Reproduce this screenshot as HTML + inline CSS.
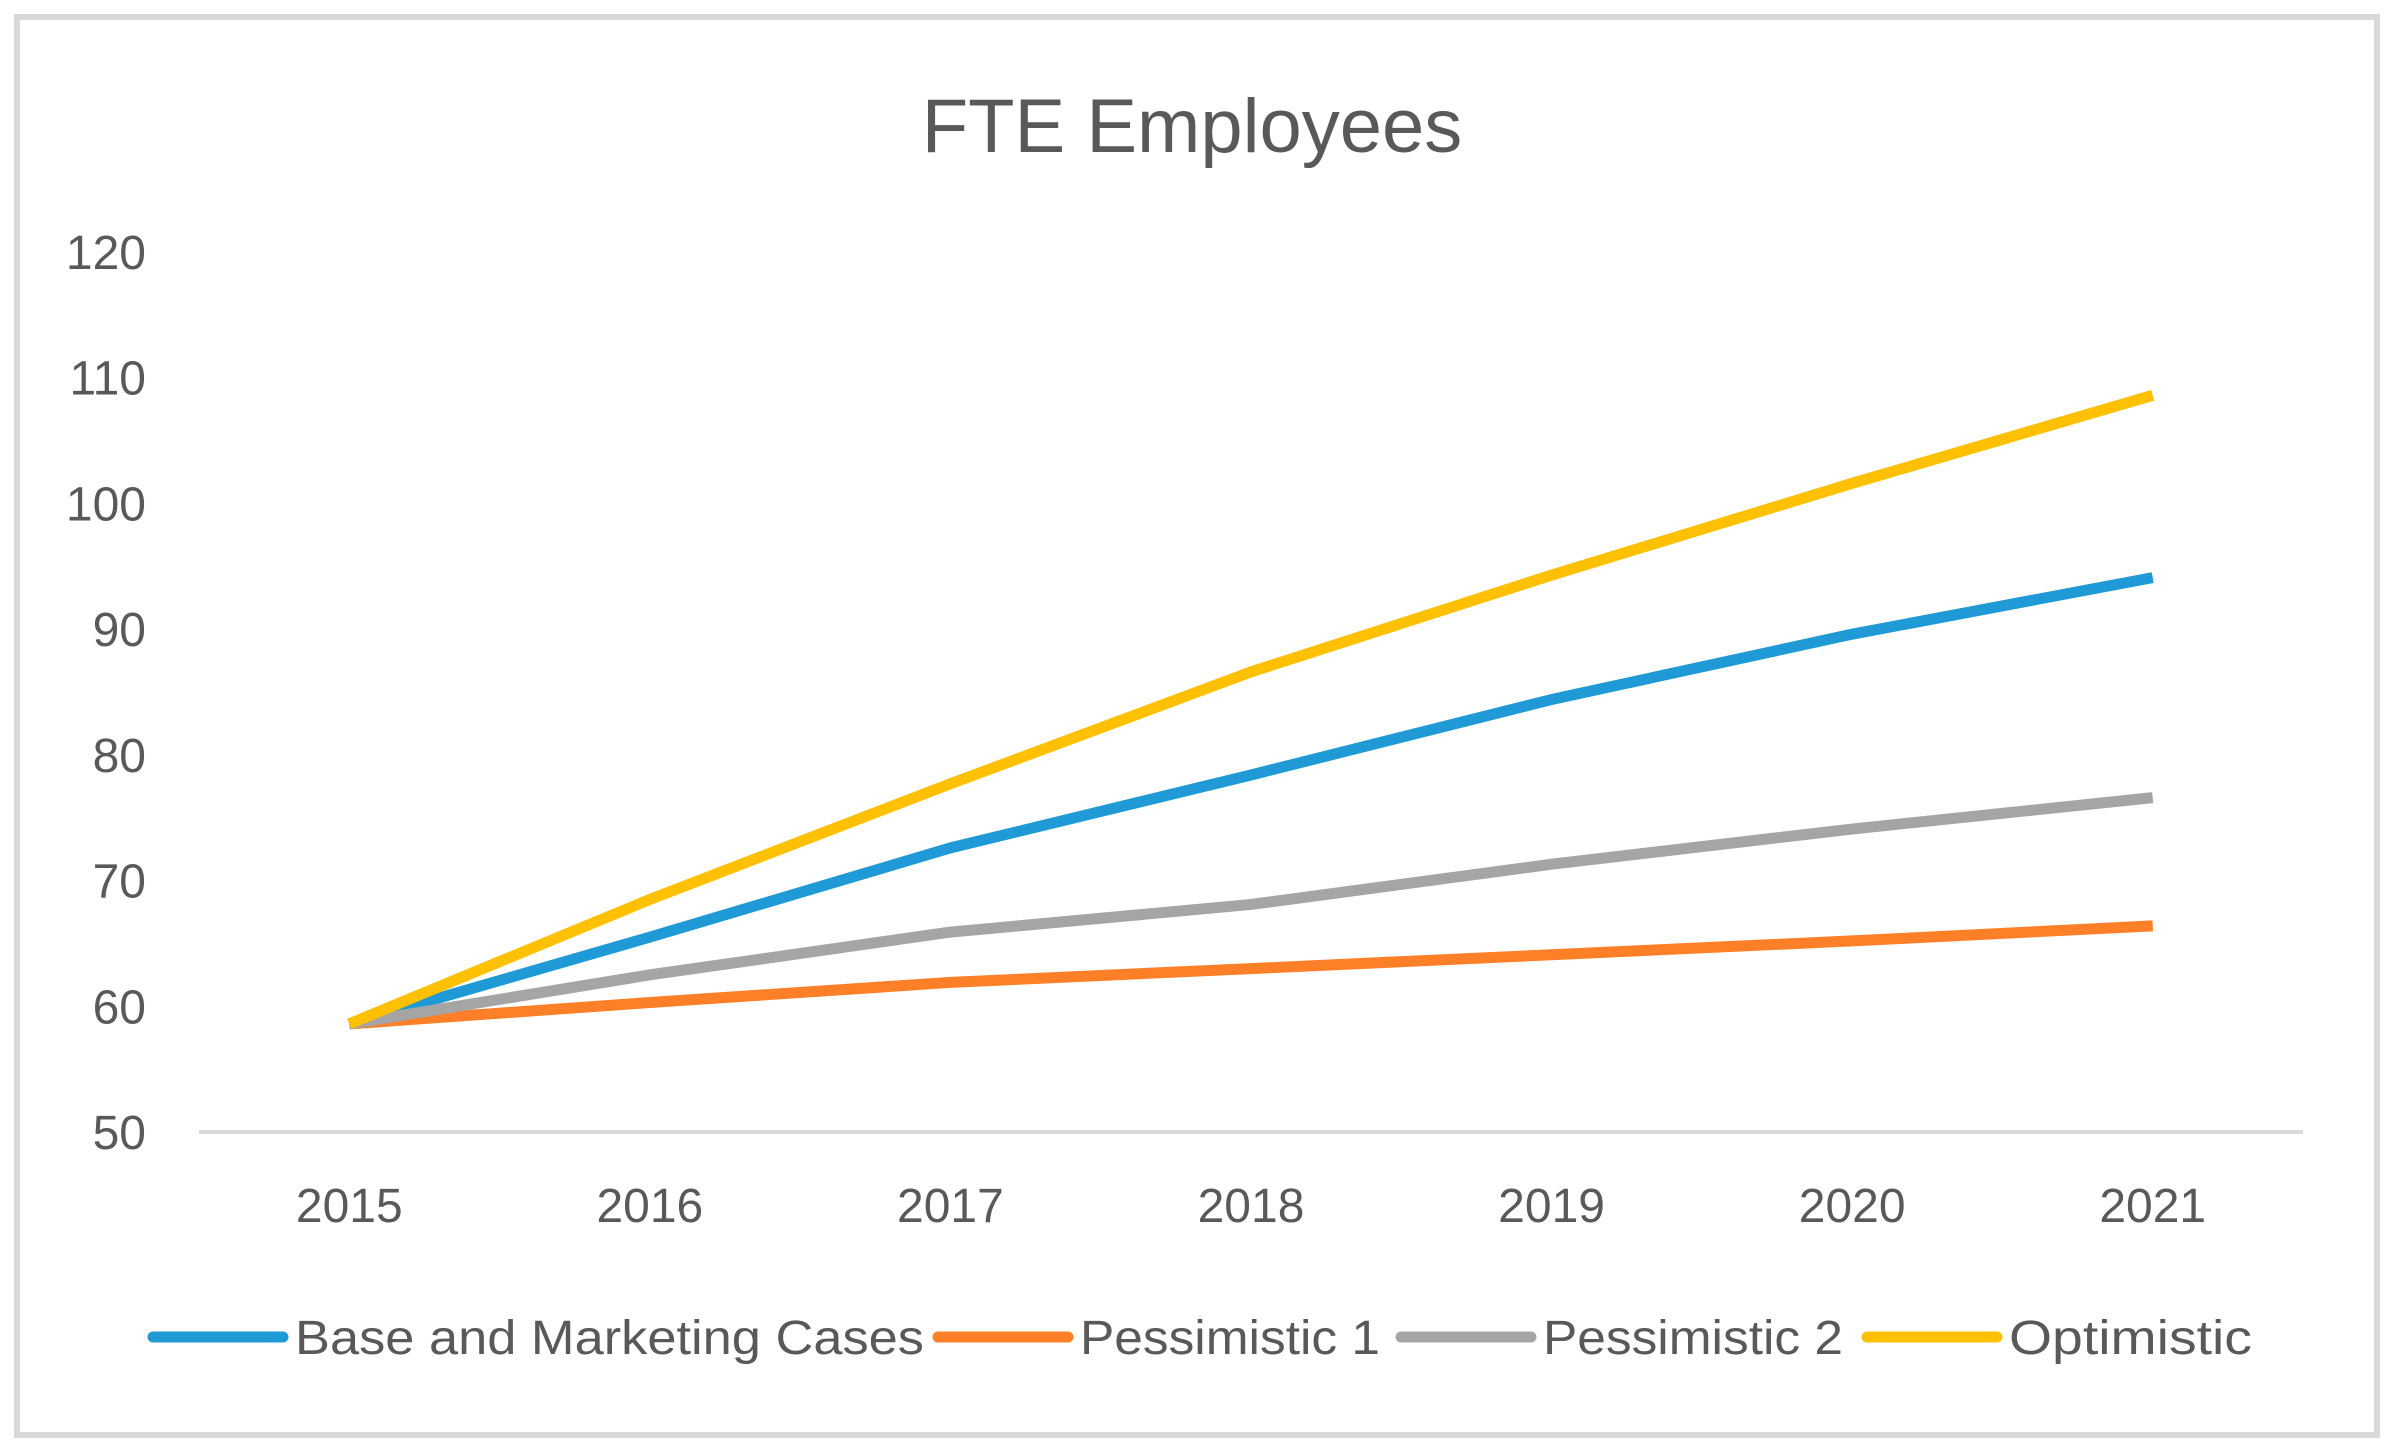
<!DOCTYPE html>
<html><head><meta charset="utf-8"><style>
html,body{margin:0;padding:0;background:#fff;}
svg{display:block;font-family:"Liberation Sans",sans-serif;}
</style></head><body>
<svg id="chart" width="2396" height="1452" viewBox="0 0 2396 1452">
<rect x="17" y="17" width="2360" height="1418" fill="#fff" stroke="#d9d9d9" stroke-width="6"/>
<text x="1192" y="152" font-size="76" fill="#595959" text-anchor="middle">FTE Employees</text>
<g id="yticks"></g><g id="xticks"></g>
<line x1="199" y1="1132" x2="2303" y2="1132" stroke="#d9d9d9" stroke-width="4"/>
<g id="series"></g>
<g id="legend"></g>
</svg>
<script>
const categories = ["2015","2016","2017","2018","2019","2020","2021"];
const yTicks = [50,60,70,80,90,100,110,120];
const seriesNames = ["Base and Marketing Cases","Pessimistic 1","Pessimistic 2","Optimistic"];
const baseValues = [58.6,65.5,72.6,78.4,84.4,89.6,94.1];
const pess1Values = [58.6,60.3,61.9,63.0,64.1,65.2,66.4];
const pess2Values = [58.6,62.5,65.9,68.1,71.3,74.1,76.6];
const optValues = [58.6,68.5,77.7,86.6,94.3,101.6,108.6];

const NS="http://www.w3.org/2000/svg";
const colors=["#1f9ad6","#fd7f28","#a5a5a5","#ffc000"];
const allValues=[baseValues,pess1Values,pess2Values,optValues];
const x0=199,x1=2303,y0=1132,yMin=50,yMax=120,yTop=252;
function xs(i){return x0+(x1-x0)/categories.length*(i+0.5);}
function ys(v){return y0-(v-yMin)/(yMax-yMin)*(y0-yTop);}
function mk(t,a,p){const e=document.createElementNS(NS,t);for(const k in a)e.setAttribute(k,a[k]);p.appendChild(e);return e;}
const yg=document.getElementById('yticks');
yTicks.forEach(v=>{const t=mk('text',{x:146,y:ys(v)+17,'font-size':48,fill:'#595959','text-anchor':'end'},yg);t.textContent=v;

});
const xg=document.getElementById('xticks');
categories.forEach((c,i)=>{const t=mk('text',{x:xs(i),y:1222,'font-size':48,fill:'#595959','text-anchor':'middle'},xg);t.textContent=c;

});
const sg=document.getElementById('series');
allValues.forEach((vals,s)=>{const pts=vals.map((v,i)=>xs(i)+','+ys(v)).join(' ');
const p=mk('polyline',{points:pts,fill:'none',stroke:colors[s],'stroke-width':11,'stroke-linejoin':'round'},sg);

});
const lg=document.getElementById('legend');
const legX=[153,938,1401,1867];
const legW=[629,300,300,243];
seriesNames.forEach((n,s)=>{
const l=mk('line',{x1:legX[s],y1:1337,x2:legX[s]+130,y2:1337,stroke:colors[s],'stroke-width':11,'stroke-linecap':'round'},lg);


const t=mk('text',{x:legX[s]+142,y:1354,'font-size':48,fill:'#595959',textLength:legW[s],lengthAdjust:'spacingAndGlyphs'},lg);t.textContent=n;

});
</script>
</body></html>
